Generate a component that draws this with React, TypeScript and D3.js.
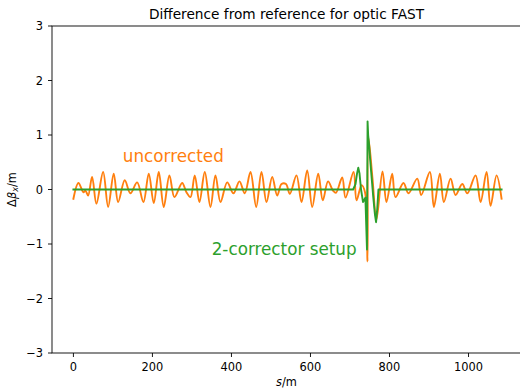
import React from "react";
import * as d3 from "d3";

// Beta-beat along the ring, uncorrected optic (position s in m, Δβx in m)
const uncorrectedS = [
  0, 12.7, 25.3, 30.4, 37.2, 47.3, 58.2, 75.2, 87.9, 102, 113.2, 129.9, 144.3, 161.3, 177.2, 190.7,
  203.3, 216, 228.6, 243, 255.7, 275.2, 286, 296.2, 307.1, 319, 332.5, 346.9, 359.5, 372.2, 389.2,
  405, 420.3, 433.7, 448.2, 462.6, 476, 488.7, 503.1, 515.8, 526.7, 538, 547.7, 564.6, 577.3, 591.7,
  604.4, 619.6, 631.2, 644.4, 657, 664.6, 680.3, 688.7, 709, 716.6, 729.2, 738, 744.4, 746.5, 757,
  767, 782.3, 792.4, 806.8, 815.2, 835.4, 848, 870.2, 880.3, 902.2, 912.3, 927.5, 937.6, 954.6,
  967.2, 984.2, 996.9, 1017.9, 1030.5, 1045.7, 1055.8, 1071, 1083.7,
];
const uncorrectedV = [
  -0.17, 0.12, -0.05, -0.02, -0.11, 0.23, -0.26, 0.32, -0.32, 0.29, -0.23, 0.17, -0.07, 0.13, -0.23, 0.29,
  -0.25, 0.32, -0.32, 0.26, -0.14, 0.12, -0.05, -0.14, 0.26, -0.23, 0.32, -0.32, 0.26, -0.23, 0.13,
  -0.07, 0.15, -0.07, 0.32, -0.32, 0.32, -0.23, 0.23, -0.11, 0.1, 0.1, -0.08, 0.26, -0.23, 0.35,
  -0.32, 0.29, -0.2, 0.15, -0.02, -0.06, 0.22, -0.15, 0.32, -0.2, 0.08, -0.05, -1.32, 0.95, 0.2,
  -0.55, 0.33, -0.23, 0.29, -0.14, 0.12, -0.07, 0.2, -0.1, 0.32, -0.32, 0.29, -0.23, 0.2,
  -0.1, 0.1, -0.07, 0.26, -0.23, 0.32, -0.3, 0.26, -0.17,
];

// Beta-beat after the 2-corrector setup
const correctedS = [
  0, 708, 714, 718, 721, 724, 728, 733, 739, 743, 744.5, 746, 748, 751, 755, 759, 763, 766, 769, 772, 1083.7,
];
const correctedV = [
  0, 0, 0.1, 0.3, 0.4, 0.3, 0.0, -0.23, -0.15, -1.1, 1.25, 1.0, 0.85, 0.55, 0.2, -0.15, -0.45, -0.6, -0.35, 0, 0,
];

const xTicks = [0, 200, 400, 600, 800, 1000];
const yTicks = [-3, -2, -1, 0, 1, 2, 3];

const W = 520;
const H = 388;
const M = { left: 52, right: 523, top: 26, bottom: 353 };
const FONT = "'DejaVu Sans', sans-serif";
const ORANGE = "#ff7f0e";
const GREEN = "#2ca02c";

const fmt = (v: number) => (v < 0 ? "\u2212" + Math.abs(v) : String(v));

export default function App() {
  const [sMin, sMax] = d3.extent(uncorrectedS) as [number, number];
  const pad = (sMax - sMin) * 0.05;
  const x = d3.scaleLinear().domain([sMin - pad, sMax + pad]).range([M.left, M.right]);
  const y = d3.scaleLinear().domain([-3, 3]).range([M.bottom, M.top]);

  const smoothLine = d3
    .line<[number, number]>()
    .x((d) => x(d[0]))
    .y((d) => y(d[1]))
    .curve(d3.curveCatmullRom.alpha(0.5));

  const straightLine = d3
    .line<[number, number]>()
    .x((d) => x(d[0]))
    .y((d) => y(d[1]));

  const orangePts = uncorrectedS.map((s, i) => [s, uncorrectedV[i]] as [number, number]);
  const greenPts = correctedS.map((s, i) => [s, correctedV[i]] as [number, number]);

  const tickFs = 11.4;

  return (
    <svg
      width={W}
      height={H}
      style={{ position: "fixed", left: 0, top: 0, background: "#fff" }}
      fontFamily={FONT}
    >
      <rect x={0} y={0} width={W} height={H} fill="#fff" />
      <defs>
        <clipPath id="plotArea">
          <rect x={M.left} y={M.top} width={M.right - M.left} height={M.bottom - M.top} />
        </clipPath>
      </defs>

      <g clipPath="url(#plotArea)" fill="none" strokeLinejoin="round" strokeLinecap="square">
        <path d={smoothLine(orangePts) ?? ""} stroke={ORANGE} strokeWidth={1.9} />
        <path d={straightLine(greenPts) ?? ""} stroke={GREEN} strokeWidth={1.9} />
      </g>

      {/* spines */}
      <rect
        x={M.left}
        y={M.top}
        width={M.right - M.left}
        height={M.bottom - M.top}
        fill="none"
        stroke="#000"
        strokeWidth={0.9}
      />

      {/* x axis */}
      {xTicks.map((t) => (
        <g key={"x" + t}>
          <line x1={x(t)} x2={x(t)} y1={M.bottom} y2={M.bottom + 4} stroke="#000" strokeWidth={0.9} />
          <text x={x(t)} y={370.5} fontSize={tickFs} textAnchor="middle" fill="#000">
            {fmt(t)}
          </text>
        </g>
      ))}

      {/* y axis */}
      {yTicks.map((t) => (
        <g key={"y" + t}>
          <line x1={M.left - 4} x2={M.left} y1={y(t)} y2={y(t)} stroke="#000" strokeWidth={0.9} />
          <text x={43} y={y(t) + 4.1} fontSize={tickFs} textAnchor="end" fill="#000">
            {fmt(t)}
          </text>
        </g>
      ))}

      {/* title */}
      <text x={(M.left + M.right) / 2 - 1} y={18.5} fontSize={13.7} textAnchor="middle" fill="#000">
        Difference from reference for optic FAST
      </text>

      {/* axis labels */}
      <text x={(M.left + M.right) / 2 - 1} y={386} fontSize={tickFs} textAnchor="middle" fill="#000">
        <tspan fontStyle="italic">s</tspan>/m
      </text>
      <text
        transform={`translate(16, ${(M.top + M.bottom) / 2}) rotate(-90)`}
        fontSize={tickFs}
        textAnchor="middle"
        fill="#000"
      >
        Δ<tspan fontStyle="italic">β</tspan>
        <tspan fontStyle="italic" fontSize={8} dy={2}>x</tspan>
        <tspan dy={-2}>/m</tspan>
      </text>

      {/* series annotations */}
      <text x={x(125)} y={y(0.5)} fontSize={16.8} fill={ORANGE}>
        uncorrected
      </text>
      <text x={x(350)} y={y(-1.2)} fontSize={16.8} fill={GREEN}>
        2-corrector setup
      </text>
    </svg>
  );
}
